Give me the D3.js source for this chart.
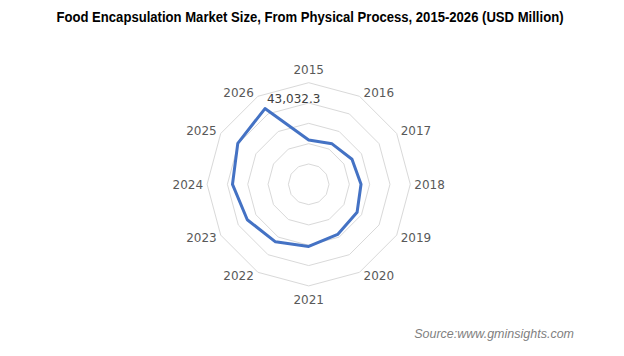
<!DOCTYPE html>
<html><head><meta charset="utf-8">
<script src="https://cdn.jsdelivr.net/npm/d3@7"></script>
<style>body{margin:0;background:#fff}</style>
</head><body>
<svg id="c" width="624" height="356"></svg>
<script>
const categories = ["2015","2016","2017","2018","2019","2020","2021","2022","2023","2024","2025","2026"];
const values = [21800, 23000, 24600, 25750, 27500, 28500, 30600, 32700, 34900, 37500, 40300, 43032.3];
const ringTicks = [10000, 20000, 30000, 40000, 50000];
const labelValue = "43,032.3";

const svg = d3.select("#c");
const cx = 308.7, cy = 184.3, R = 101.6;
const r = d3.scaleLinear().domain([0, 50000]).range([0, R]);
const ang = d3.scalePoint().domain(categories).range([0, 2*Math.PI*(categories.length-1)/categories.length]);
const pt = (c, v) => [cx + r(v)*Math.sin(ang(c)), cy - r(v)*Math.cos(ang(c))];

svg.append("text").attr("x", 310).attr("y", 22.3).attr("text-anchor","middle")
  .attr("font-family","Liberation Sans, Arial, sans-serif").attr("font-weight","bold")
  .attr("font-size", 14).attr("fill","#000")
  .attr("textLength", 507).attr("lengthAdjust","spacingAndGlyphs")
  .text("Food Encapsulation Market Size, From Physical Process, 2015-2026 (USD Million)");

const g = svg.append("g");
ringTicks.forEach(t => {
  g.append("path").attr("d", d3.line()(categories.map(c => pt(c, t))) + "Z")
    .attr("fill","none").attr("stroke","#d9d9d9").attr("stroke-width",1);
});

g.append("path").attr("d", d3.line()(categories.map((c,i) => pt(c, values[i]))) + "Z")
  .attr("fill","none").attr("stroke","#4472C4").attr("stroke-width",3).attr("stroke-linejoin","round");

categories.forEach(c => {
  const a = ang(c), s = Math.sin(a), co = Math.cos(a);
  const [vx, vy] = pt(c, 50000);
  let x, y, anchor;
  if (Math.abs(s) < 0.1) { anchor = "middle"; x = vx; y = vy - Math.sign(co)*13.4; }
  else { anchor = s > 0 ? "start" : "end"; x = vx + Math.sign(s)*4; y = vy - co*4.5; }
  g.append("text").attr("x", x).attr("y", y).attr("dy","0.35em").attr("text-anchor",anchor)
    .attr("font-family","DejaVu Sans, Verdana, sans-serif").attr("font-size",12).attr("fill","#595959").text(c);
});

const lp = pt("2026", values[11]);
g.append("text").attr("x", lp[0]+28.7).attr("y", lp[1]-6).attr("text-anchor","middle")
  .attr("font-family","DejaVu Sans, Verdana, sans-serif").attr("font-size",12).attr("fill","#404040").text(labelValue);

svg.append("text").attr("x", 574).attr("y", 338).attr("text-anchor","end")
  .attr("font-family","Liberation Sans, Arial, sans-serif").attr("font-style","italic")
  .attr("font-size",12.5).attr("fill","#7f7f7f").text("Source:www.gminsights.com");
</script>
</body></html>
